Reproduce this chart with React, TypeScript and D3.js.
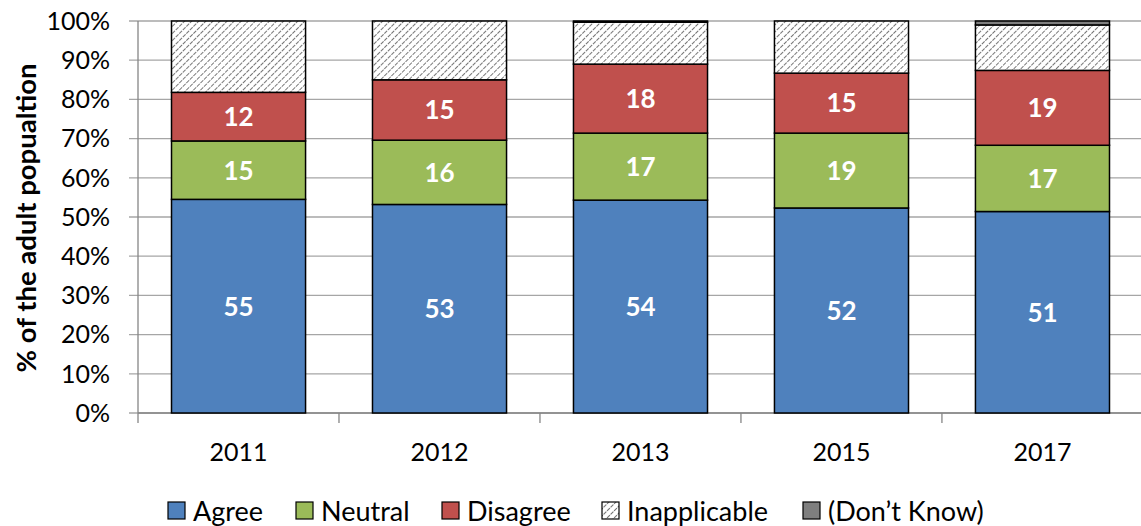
import React from "react";
import * as d3 from "d3";

const years = ["2011", "2012", "2013", "2015", "2017"];
const agree = [54.5, 53.2, 54.3, 52.3, 51.4];
const neutral = [14.9, 16.4, 17.1, 19.1, 16.9];
const disagree = [12.4, 15.4, 17.6, 15.3, 19.1];
const inapplicable = [18.2, 15.0, 10.7, 13.3, 11.6];
const dontKnow = [0, 0, 0.3, 0, 1.0];
const yTicks = [0, 10, 20, 30, 40, 50, 60, 70, 80, 90, 100];

const seriesNames = ["Agree", "Neutral", "Disagree", "Inapplicable", "(Don\u2019t Know)"];
const seriesValues = [agree, neutral, disagree, inapplicable, dontKnow];
const seriesFill = ["#4F81BD", "#9BBB59", "#C0504D", "url(#hatch)", "#7F7F7F"];
const showLabel = [true, true, true, false, false];

const W = 1141, H = 526;
const left = 138, right = 1143, top = 21, bottom = 413;
const FONT = "Lato, 'Open Sans', sans-serif";

export default function App() {
  const x = d3.scaleBand().domain(years).range([left, right]).paddingInner(0.333).paddingOuter(0.1667);
  const y = d3.scaleLinear().domain([0, 100]).range([bottom, top]);
  const stacked = d3.stack<number>().keys(d3.range(seriesNames.length).map(String))
    .value((i, k) => seriesValues[+k][i])(d3.range(years.length));
  const step = x.step();
  const bounds = d3.range(years.length + 1).map((i) => left + i * step);
  const legendX = [168, 296, 442, 602, 803];

  return (
    <svg width={W} height={H} style={{ position: "absolute", left: 0, top: 0, background: "#fff" }}>
      <defs>
        <pattern id="hatch" patternUnits="userSpaceOnUse" width="5" height="5" patternTransform="rotate(45)">
          <rect width="5" height="5" fill="#fff" />
          <line x1="0" y1="0" x2="0" y2="5" stroke="#555" strokeWidth="1.6" strokeDasharray="2 1" />
        </pattern>
      </defs>
      {yTicks.map((t) => (
        <g key={t}>
          <line x1={129} x2={right} y1={y(t)} y2={y(t)} stroke="#a6a6a6" strokeWidth={1.3} />
          <text x={110} y={y(t)} dy="0.35em" textAnchor="end" fontFamily={FONT} fontSize={25} fill="#000">{t}%</text>
        </g>
      ))}
      <line x1={left} x2={left} y1={top} y2={bottom} stroke="#868686" strokeWidth={1.3} />
      <line x1={left} x2={right} y1={bottom} y2={bottom} stroke="#868686" strokeWidth={1.3} />
      {bounds.map((b, i) => (
        <line key={i} x1={b} x2={b} y1={bottom} y2={bottom + 10} stroke="#868686" strokeWidth={1.3} />
      ))}
      {stacked.map((layer, si) => (
        <g key={si}>
          {layer.map((d, i) => {
            const h = y(d[0]) - y(d[1]);
            if (h <= 0) return null;
            return (
              <rect key={i} x={x(years[i])} y={y(d[1])} width={x.bandwidth()} height={h}
                fill={seriesFill[si]} stroke="#000" strokeWidth={1.5} />
            );
          })}
        </g>
      ))}
      {stacked.map((layer, si) => showLabel[si] ? (
        <g key={"l" + si}>
          {layer.map((d, i) => (
            <text key={i} x={(x(years[i]) as number) + x.bandwidth() / 2} y={(y(d[0]) + y(d[1])) / 2} dy="0.36em"
              textAnchor="middle" fontFamily={FONT} fontWeight="bold" fontSize={26} fill="#fff">
              {Math.round(d[1] - d[0])}
            </text>
          ))}
        </g>
      ) : null)}
      {years.map((yr) => (
        <text key={yr} x={(x(yr) as number) + x.bandwidth() / 2} y={452} dy="0.35em" textAnchor="middle"
          fontFamily={FONT} fontSize={25} fill="#000">{yr}</text>
      ))}
      <text transform={`translate(26,218) rotate(-90)`} textAnchor="middle" dy="0.35em"
        fontFamily={FONT} fontWeight="bold" fontSize={27.5} fill="#000">% of the adult popualtion</text>
      {seriesNames.map((n, i) => (
        <g key={n}>
          <rect x={legendX[i]} y={502} width={17} height={17} fill={seriesFill[i]} stroke="#000" strokeWidth={1.2} />
          <text x={legendX[i] + 25} y={511} dy="0.36em" fontFamily={FONT} fontSize={27} fill="#000">{n}</text>
        </g>
      ))}
    </svg>
  );
}
